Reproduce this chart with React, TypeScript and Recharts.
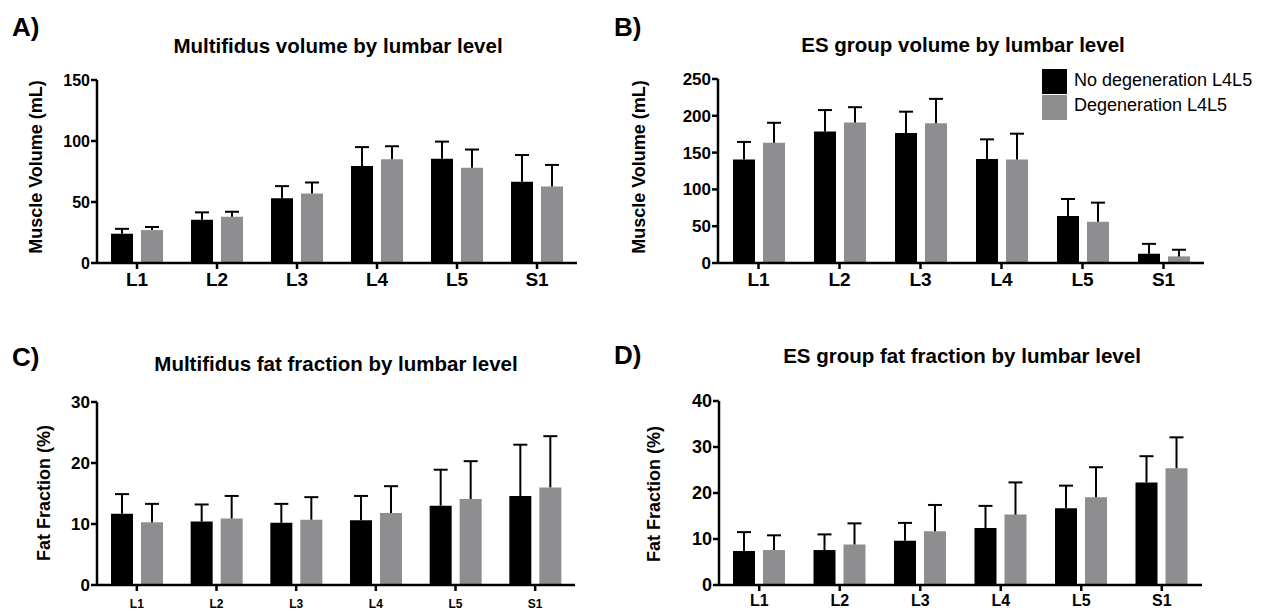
import React from 'react';
import { BarChart, Bar, XAxis, YAxis, ErrorBar, Legend } from 'recharts';

// lumbar levels on the x axis
const levels = ['L1', 'L2', 'L3', 'L4', 'L5', 'S1'];

// A) multifidus volume (mL)
const mfVolNoDeg = [24, 35.5, 53, 79.5, 85.5, 66.5];
const mfVolNoDegSd = [4, 6, 10, 15.5, 14, 22];
const mfVolDeg = [27, 38, 57, 85, 78, 62.7];
const mfVolDegSd = [2.5, 4, 9, 10.7, 15, 17.7];

// B) erector spinae group volume (mL)
const esVolNoDeg = [140.5, 178.8, 176.6, 141.4, 64, 12.6];
const esVolNoDegSd = [24, 29, 29, 26.6, 23, 13.4];
const esVolDeg = [163.5, 191, 190, 140.5, 56, 9];
const esVolDegSd = [27, 20.7, 33, 35.2, 26, 9];

// C) multifidus fat fraction (%)
const mfFatNoDeg = [11.7, 10.4, 10.2, 10.6, 13, 14.6];
const mfFatNoDegSd = [3.2, 2.8, 3.1, 4, 5.9, 8.4];
const mfFatDeg = [10.3, 10.9, 10.7, 11.8, 14.1, 16];
const mfFatDegSd = [3, 3.7, 3.7, 4.4, 6.2, 8.4];

// D) erector spinae group fat fraction (%)
const esFatNoDeg = [7.4, 7.6, 9.6, 12.4, 16.7, 22.3];
const esFatNoDegSd = [4.1, 3.4, 3.9, 4.8, 4.9, 5.7];
const esFatDeg = [7.6, 8.8, 11.7, 15.3, 19.1, 25.4];
const esFatDegSd = [3.2, 4.6, 5.7, 7, 6.5, 6.7];

const volTicksA = [0, 50, 100, 150];
const volTicksB = [0, 50, 100, 150, 200, 250];
const fatTicksC = [0, 10, 20, 30];
const fatTicksD = [0, 10, 20, 30, 40];

const FONT = '"Liberation Sans", Arial, Helvetica, sans-serif';
const GREY = '#8e8e91';

function rows(a: number[], aSd: number[], b: number[], bSd: number[]) {
  return levels.map((level, i) => ({
    level,
    noDeg: a[i],
    noDegErr: [0, aSd[i]],
    deg: b[i],
    degErr: [0, bSd[i]],
  }));
}

interface PanelProps {
  left: number;
  top: number;
  data: ReturnType<typeof rows>;
  ticks: number[];
  margin: { top: number; right: number; bottom: number; left: number };
  xHeight: number;
  xFont: number;
  xMargin: number;
  yFont: number;
  legend?: boolean;
}

function Panel(p: PanelProps) {
  const axisLine = { stroke: '#000', strokeWidth: 2.5 };
  const tickLine = { stroke: '#000', strokeWidth: 2.5 };
  return (
    <div style={{ position: 'absolute', left: p.left, top: p.top }}>
      <BarChart
        width={633}
        height={306}
        data={p.data}
        margin={p.margin}
        barSize={22}
        barGap={8}
        style={{ fontFamily: FONT }}
      >
        <XAxis
          dataKey="level"
          height={p.xHeight}
          axisLine={axisLine}
          tickLine={tickLine}
          tickSize={6}
          tickMargin={p.xMargin}
          interval={0}
          tick={{ fontSize: p.xFont, fontWeight: 700, fill: '#000', fontFamily: FONT }}
        />
        <YAxis
          width={60}
          domain={[0, p.ticks[p.ticks.length - 1]]}
          ticks={p.ticks}
          interval={0}
          axisLine={axisLine}
          tickLine={tickLine}
          tickSize={6}
          tickMargin={1}
          tick={{ fontSize: p.yFont, fontWeight: 700, fill: '#000', fontFamily: FONT }}
        />
        {p.legend && (
          // vertical + centre/middle keeps the legend out of the plot offset
          <Legend
            layout="vertical"
            verticalAlign="middle"
            align="center"
            iconType="square"
            iconSize={25}
            itemSorter={(item: any) => (item.dataKey === 'noDeg' ? 0 : 1)}
            wrapperStyle={{ top: 69, left: 409, width: 224, lineHeight: '22px', textAlign: 'left' }}
            formatter={(value) => (
              <span style={{ color: '#000', fontSize: 18, fontFamily: FONT, marginLeft: 3 }}>{value}</span>
            )}
          />
        )}
        <Bar dataKey="noDeg" name="No degeneration L4L5" fill="#000" isAnimationActive={false}>
          <ErrorBar dataKey="noDegErr" direction="y" width={7} stroke="#000" strokeWidth={2} isAnimationActive={false} />
        </Bar>
        <Bar dataKey="deg" name="Degeneration L4L5" fill={GREY} isAnimationActive={false}>
          <ErrorBar dataKey="degErr" direction="y" width={7} stroke="#000" strokeWidth={2} isAnimationActive={false} />
        </Bar>
      </BarChart>
    </div>
  );
}

const titleStyle = { fontSize: 20.5, fontWeight: 700 } as const;
const letterStyle = { fontSize: 26, fontWeight: 700 } as const;
const yLabelStyle = { fontSize: 18, fontWeight: 700 } as const;

export default function App() {
  return (
    <div
      style={{
        position: 'absolute',
        left: 0,
        top: 0,
        width: 1266,
        height: 612,
        background: '#fff',
        fontFamily: FONT,
        overflow: 'hidden',
      }}
    >
      <style>{'.recharts-errorBar line:nth-of-type(3){display:none}'}</style>

      <Panel
        left={0}
        top={0}
        data={rows(mfVolNoDeg, mfVolNoDegSd, mfVolDeg, mfVolDegSd)}
        ticks={volTicksA}
        margin={{ top: 80, right: 56, bottom: 13, left: 37 }}
        xHeight={30}
        xFont={19}
        xMargin={4}
        yFont={16}
      />
      <Panel
        left={633}
        top={0}
        data={rows(esVolNoDeg, esVolNoDegSd, esVolDeg, esVolDegSd)}
        ticks={volTicksB}
        margin={{ top: 79, right: 62, bottom: 13, left: 25 }}
        xHeight={30}
        xFont={19}
        xMargin={4}
        yFont={17}
        legend
      />
      <Panel
        left={0}
        top={306}
        data={rows(mfFatNoDeg, mfFatNoDegSd, mfFatDeg, mfFatDegSd)}
        ticks={fatTicksC}
        margin={{ top: 96, right: 58, bottom: 0, left: 37 }}
        xHeight={27}
        xFont={12}
        xMargin={8}
        yFont={17}
      />
      <Panel
        left={633}
        top={306}
        data={rows(esFatNoDeg, esFatNoDegSd, esFatDeg, esFatDegSd)}
        ticks={fatTicksD}
        margin={{ top: 95, right: 64, bottom: 0, left: 26 }}
        xHeight={27}
        xFont={16}
        xMargin={4}
        yFont={18}
      />

      <svg
        width={1266}
        height={612}
        style={{ position: 'absolute', left: 0, top: 0, pointerEvents: 'none', fontFamily: FONT }}
      >
        <text x={12} y={36} {...letterStyle}>A)</text>
        <text x={614} y={36} {...letterStyle}>B)</text>
        <text x={12} y={366} {...letterStyle}>C)</text>
        <text x={614} y={364} {...letterStyle}>D)</text>

        <text x={338} y={53} textAnchor="middle" {...titleStyle}>Multifidus volume by lumbar level</text>
        <text x={963} y={52} textAnchor="middle" {...titleStyle}>ES group volume by lumbar level</text>
        <text x={336} y={371} textAnchor="middle" {...titleStyle}>Multifidus fat fraction by lumbar level</text>
        <text x={962} y={363} textAnchor="middle" {...titleStyle}>ES group fat fraction by lumbar level</text>

        <text transform="translate(42,167) rotate(-90)" textAnchor="middle" {...yLabelStyle}>Muscle Volume (mL)</text>
        <text transform="translate(645,167) rotate(-90)" textAnchor="middle" {...yLabelStyle}>Muscle Volume (mL)</text>
        <text transform="translate(50,493) rotate(-90)" textAnchor="middle" {...yLabelStyle}>Fat Fraction (%)</text>
        <text transform="translate(660,494) rotate(-90)" textAnchor="middle" {...yLabelStyle}>Fat Fraction (%)</text>
      </svg>
    </div>
  );
}
